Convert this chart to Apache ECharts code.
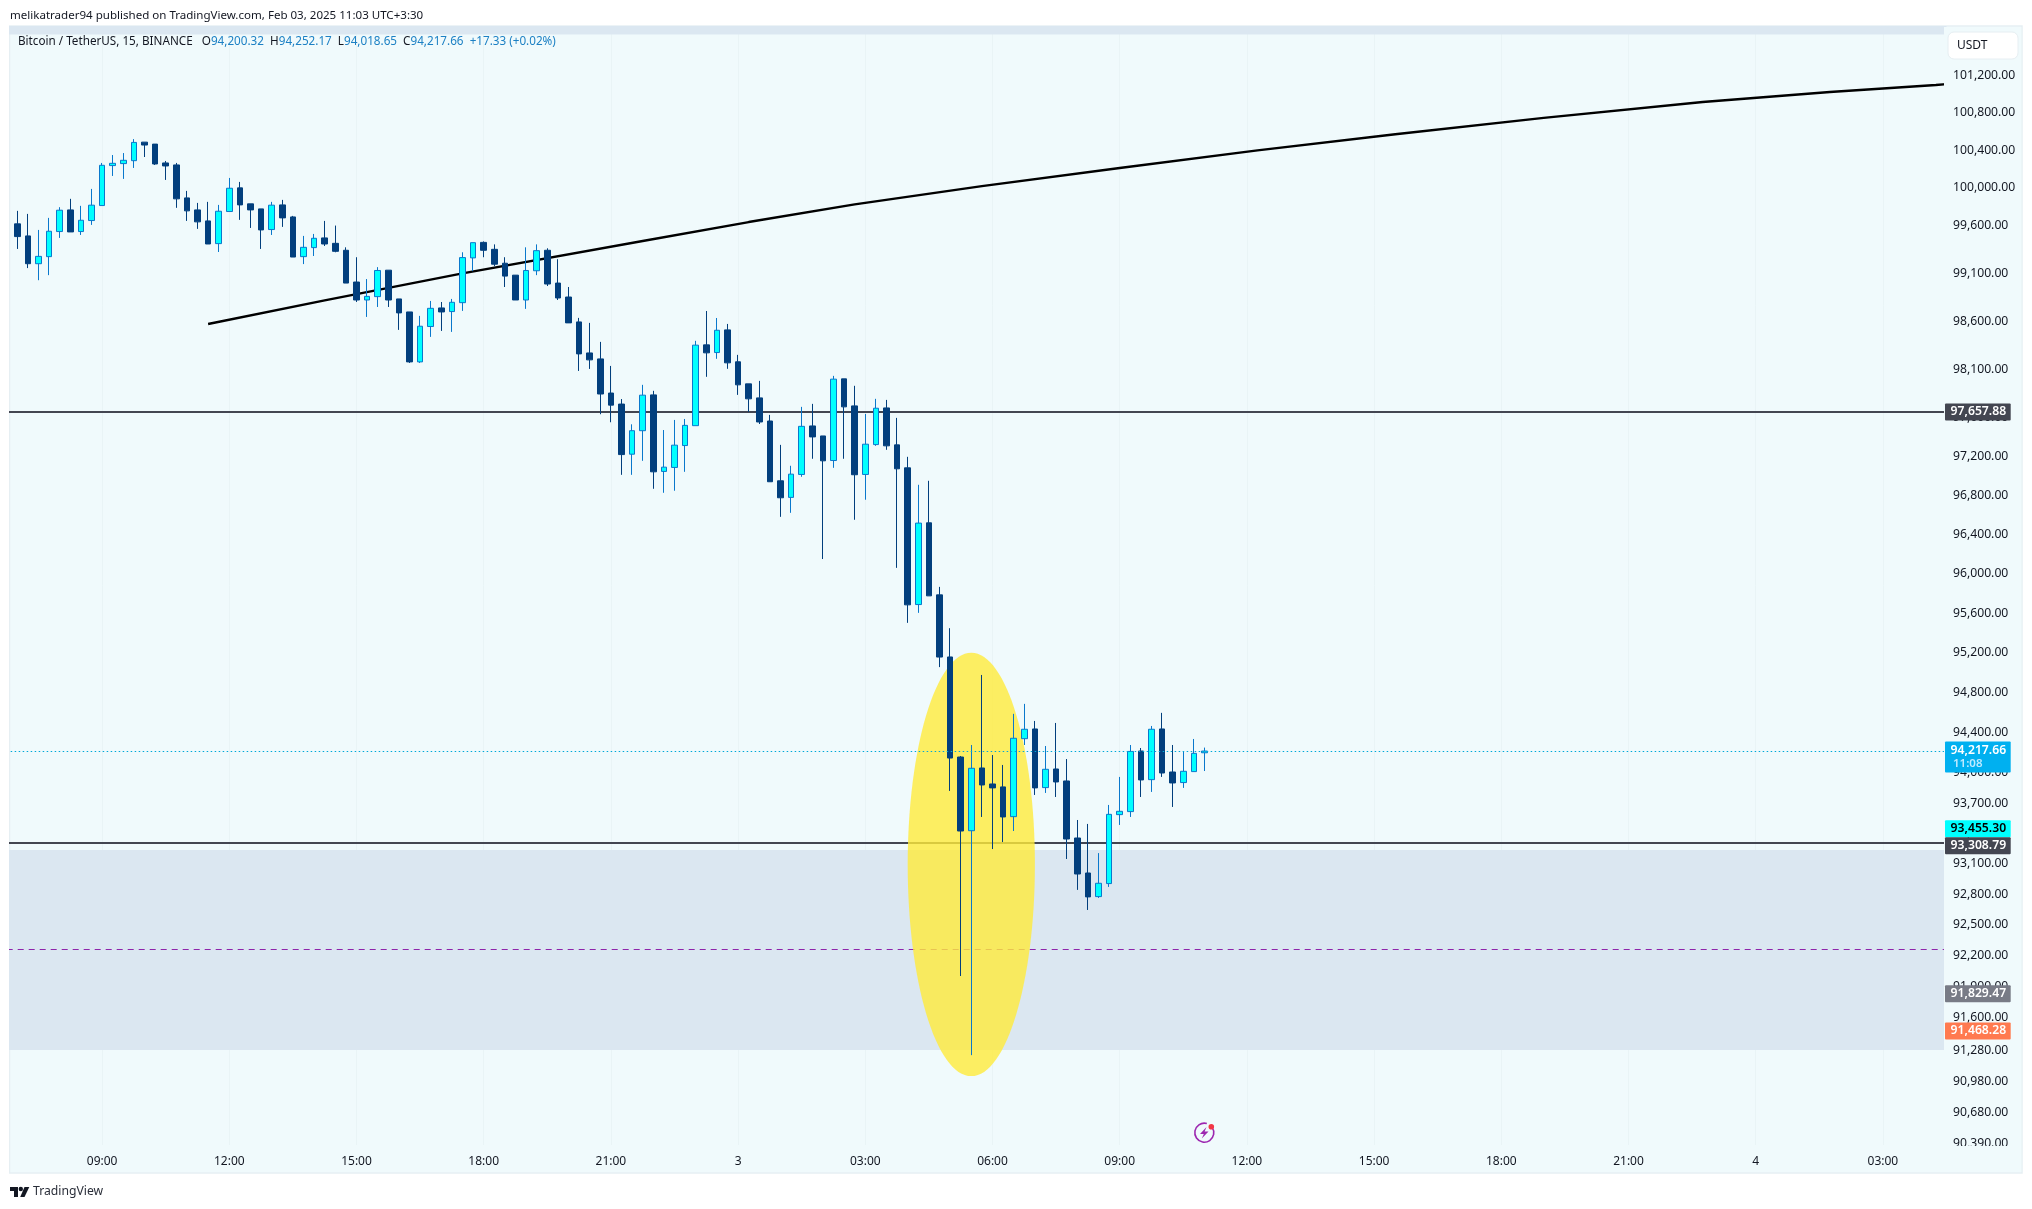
<!DOCTYPE html>
<html><head><meta charset="utf-8"><title>BTC/USDT</title>
<style>html,body{margin:0;padding:0;background:#fff}#c{width:2032px;height:1209px}</style>
<script src="https://cdn.jsdelivr.net/npm/echarts@6/dist/echarts.min.js"></script></head>
<body><div id="c"></div>
<script>
const opens=[99621,99494,99202,99276,99540,99768,99540,99656,99814,100237,100258,100289,100486,100465,100265,100244,99895,99768,99652,99413,99751,100001,99832,99779,99561,99821,99694,99276,99371,99473,
99416,99343,99010,98822,98857,99134,98833,98697,98177,98545,98739,98701,98794,99263,99426,99353,99207,99082,98822,99128,99343,98999,98853,98593,98270,98208,97854,97740,97223,
97465,97835,97046,97087,97312,97517,98354,98274,98510,98178,97949,97804,97565,96950,96780,97015,97514,97411,97158,98001,97721,97015,97322,97700,97319,97083,95689,96520,95787,
95160,94158,93427,94049,93890,93861,93566,94341,94438,93854,94039,93920,93355,93010,92778,92906,93586,93616,94218,93933,94438,94009,93904,94013,94200.32];
const closes=[99487,99202,99279,99543,99765,99536,99659,99818,100240,100261,100293,100483,100455,100254,100233,99885,99758,99642,99409,99754,99997,99821,99768,99557,99818,99684,99272,99374,99469,99409,
99332,98999,98822,98860,99131,98822,98687,98177,98548,98735,98697,98798,99266,99423,99343,99197,99072,98822,99131,99339,98989,98843,98583,98260,98198,97844,97729,97219,97465,
97832,97042,97090,97316,97520,98351,98271,98506,98167,97939,97794,97555,96940,96776,97018,97510,97401,97155,97998,97711,97012,97326,97697,97309,97073,95686,96517,95777,95159,
94148,93424,94046,93880,93851,93563,94345,94435,93851,94036,93910,93345,93000,92775,92909,93589,93619,94214,93930,94435,93999,93900,94016,94195,94217.66];
const lows=[99357,99156,99029,99082,99473,99536,99504,99610,99814,100127,100096,100212,100328,100244,100085,99790,99652,99568,99409,99325,99751,99663,99578,99357,99504,99589,99272,99198,99283,99388,
99322,98999,98801,98645,98749,98749,98510,98166,98166,98437,98499,98489,98708,99124,99270,99176,98958,98822,98729,99082,98968,98822,98583,98083,98104,97635,97552,97011,97011,
97155,96868,96827,96848,97042,97517,98022,98209,98105,97835,97659,97534,96940,96581,96622,96991,97176,96151,97083,97176,96551,96756,97309,97268,96061,95504,95605,95777,95058,
93821,92002,91235,93563,93246,93315,93424,94278,93781,93801,93761,93148,92844,92647,92765,92873,93484,93563,93761,93811,93960,93662,93851,94013,94018.65];
const highs=[99758,99726,99557,99684,99797,99885,99811,99990,100265,100349,100370,100518,100486,100465,100286,100265,99969,99842,99853,99821,100106,100064,99832,99779,99853,99874,99705,99494,99515,99652,
99603,99374,99270,99041,99166,99134,98833,98697,98656,98812,98801,98833,99322,99423,99436,99405,99270,99082,99374,99405,99364,99249,98958,98635,98583,98385,98135,97792,97531,
97939,97877,97472,97576,97586,98396,98707,98634,98572,98250,97949,97980,97628,97319,97104,97711,97742,97411,98032,98001,97929,97638,97794,97783,97597,97196,96909,96950,95868,
95450,94168,94278,94979,94178,94079,94589,94689,94518,94268,94498,94138,93533,93494,93206,93682,93960,94278,94248,94468,94599,94278,94218,94338,94252.17];

const slotCount=184;
const firstTimeTickSlot=9, slotsPerTimeTick=12;
const timeTicks=["09:00","12:00","15:00","18:00","21:00","3","03:00","06:00","09:00","12:00","15:00","18:00","21:00","4","03:00"];
const priceTicks=[101200,100800,100400,100000,99600,99100,98600,98100,97600,97200,96800,96400,96000,95600,95200,94800,94400,94000,93700,93400,93100,92800,92500,92200,91900,91600,91280,90980,90680,90390];
const trendSlots=[19,30,43,60,70,80,92,105,118,131,145,160,172,182,183];
const trendPrices=[98571,98818,99101,99440,99640,99827,100020,100211,100399,100570,100744,100914,101020,101095,101104];
const levelPrices=[97657.88,93308.79];
const lastPrice=94217.66;
const midPrice=92262;
const zoneLow=91285, zoneHigh=93237;
const topZoneLow=101637;
const priceMin=90372, priceMax=101728;
const ellipseSlots=[85,97], ellipsePrices=[95203,91033];
const tagPrices=[97657.88,94217.66,93455.30,93308.79,91829.47,91468.28];
const tagTexts=["97,657.88","94,217.66","93,455.30","93,308.79","91,829.47","91,468.28"];
const countdownText="11:08";
const headerText="melikatrader94 published on TradingView.com, Feb 03, 2025 11:03 UTC+3:30";
const symbolText="Bitcoin / TetherUS, 15, BINANCE";

const FONT='"Noto Sans", sans-serif';
const PANEL='#f0fafc', ZONE='#dbe7f1', DARK='#131722', BLUE='#1c80c4';
const tagFill=['#434651','#00b0f0','#00ffff','#434651','#787b86','#ff7a50'];
const tagInk=['#fff','#fff','#000','#fff','#fff','#fff'];
const tagNudge=[0,-1,1,3,0,0];

const categories=Array.from({length:slotCount},(_,s)=>{
  const k=(s-firstTimeTickSlot)/slotsPerTimeTick;
  return Number.isInteger(k)&&timeTicks[k]?timeTicks[k]:'';
});
const isTickSlot=i=>categories[i]!=='';
const candleData=[['-','-','-','-']].concat(opens.map((o,i)=>[o,closes[i],lows[i],highs[i]]));
const fmt=v=>Math.round(v).toLocaleString('en-US',{minimumFractionDigits:2,maximumFractionDigits:2});

const chart=echarts.init(document.getElementById('c'),null,{renderer:'canvas'});
const lastSlot=slotCount-1;
const hl=(price,color,type,width)=>({yAxis:price,lineStyle:{color,type,width}});

chart.setOption({
  animation:false,
  backgroundColor:'#fff',
  grid:{left:6.7,top:26,width:1939.8,height:1119,containLabel:false},
  title:[
    {text:headerText,left:10,top:9.5,padding:0,textStyle:{fontFamily:FONT,fontSize:11.55,fontWeight:'normal',color:DARK}},
    {text:`{n|${symbolText}}{n|   O}{v|94,200.32}{n|  H}{v|94,252.17}{n|  L}{v|94,018.65}{n|  C}{v|94,217.66}{v|  +17.33 (+0.02%)}`,
     left:18,top:36,padding:0,
     textStyle:{fontWeight:'normal',rich:{n:{fontFamily:FONT,fontSize:11.7,fontWeight:'normal',color:DARK},v:{fontFamily:FONT,fontSize:11.7,fontWeight:'normal',color:BLUE}}}},
    {text:'TradingView',left:33,top:1185.5,padding:0,textStyle:{fontFamily:FONT,fontSize:12.2,fontWeight:'normal',color:'#2a2e39'}}
  ],
  xAxis:{type:'category',data:categories,boundaryGap:false,
    axisLine:{show:false},axisTick:{show:false},
    axisLabel:{interval:(i)=>isTickSlot(i),margin:10.5,fontFamily:FONT,fontSize:12,color:DARK},
    splitLine:{show:true,interval:(i)=>isTickSlot(i),lineStyle:{color:'#e9f4f6',width:1}}},
  yAxis:{type:'log',logBase:10,min:priceMin,max:priceMax,position:'right',z:6,
    axisLine:{show:false},axisTick:{show:false},splitLine:{show:false},
    axisLabel:{customValues:priceTicks,margin:6.5,fontFamily:FONT,fontSize:12.2,color:DARK,formatter:fmt,hideOverlap:false}},
  graphic:{elements:[
    {type:'rect',z:-1,silent:true,shape:{x:9.5,y:26,width:2012.5,height:1147},style:{fill:PANEL,stroke:'#e6eff3',lineWidth:1.5}},
    {type:'rect',z:5,silent:true,shape:{x:1944,y:27,width:77.3,height:1145},style:{fill:PANEL}},
    {type:'rect',z:5,silent:true,shape:{x:0,y:20,width:9,height:1160},style:{fill:'#fff'}},
    {type:'rect',z:7,silent:true,shape:{x:1946,y:1146,width:74,height:12},style:{fill:PANEL}},
    {type:'rect',z:6,silent:true,shape:{x:1948,y:32,width:70,height:27,r:6},style:{fill:'#fff',stroke:'#e6eef2',lineWidth:1}},
    {type:'text',z:7,silent:true,x:1957,y:45.5,style:{text:'USDT',font:'12px '+FONT,fill:DARK,textVerticalAlign:'middle'}},
    {type:'polygon',z:6,silent:true,shape:{points:[[10,1187],[18,1187],[18,1197],[14,1197],[14,1191],[10,1191]]},style:{fill:'#131722'}},
    {type:'polygon',z:6,silent:true,shape:{points:[[24.5,1187],[29.3,1187],[24.5,1197],[20.2,1197]]},style:{fill:'#131722'}},
    {type:'circle',z:6,silent:true,shape:{cx:20.8,cy:1189,r:2.2},style:{fill:'#131722'}},
    {type:'arc',z:6,silent:true,shape:{cx:1204.3,cy:1132.7,r:9.5,startAngle:-0.6,endAngle:-1.3,clockwise:true},style:{stroke:'#9c27b0',lineWidth:1.6,fill:'none'}},
    {type:'polygon',z:6,silent:true,shape:{points:[[1206.5,1127],[1200,1134],[1203.8,1134],[1201.8,1138.5],[1208.5,1131.5],[1204.6,1131.5]]},style:{fill:'#9c27b0'}},
    {type:'circle',z:7,silent:true,shape:{cx:1211.3,cy:1126.7,r:2.8},style:{fill:'#f23645'}}
  ]},
  series:[
    {type:'line',name:'trend',z:2,silent:true,symbol:'none',
     data:trendSlots.map((s,i)=>[s,trendPrices[i]]),
     lineStyle:{color:'#000',width:2.4},
     markArea:{silent:true,z:1,itemStyle:{color:ZONE,opacity:1},label:{show:false},
       data:[[{yAxis:zoneHigh},{yAxis:zoneLow}],[{yAxis:priceMax},{yAxis:topZoneLow}]]},
     markLine:{silent:true,z:1,symbol:['none','none'],label:{show:false},animation:false,
       data:[...levelPrices.map(p=>hl(p,'#434651','solid',2)),hl(midPrice,'#8e24aa',[6,5],1)]}},
    {type:'custom',name:'highlight',z:2,silent:true,clip:false,
     data:[[ellipseSlots[0],ellipsePrices[0],ellipseSlots[1],ellipsePrices[1]]],
     encode:{x:0,y:1},
     renderItem:(p,api)=>{
       const a=api.coord([api.value(0),api.value(1)]), b=api.coord([api.value(2),api.value(3)]);
       return {type:'ellipse',shape:{cx:(a[0]+b[0])/2,cy:(a[1]+b[1])/2,rx:Math.abs(b[0]-a[0])/2,ry:Math.abs(b[1]-a[1])/2},
               style:{fill:'rgba(255,235,59,0.8)'}};
     }},
    {type:'candlestick',name:'BTCUSDT',z:3,silent:true,barWidth:6,
     data:candleData,
     itemStyle:{color:'#00ffff',color0:'#023f7d',borderColor:'#0a78cc',borderColor0:'#023f7d',borderWidth:1},
     markLine:{silent:true,z:4,symbol:['none','none'],label:{show:false},animation:false,
       data:[hl(lastPrice,'#00a8d8',[1.5,2.5],1)]}},
    {type:'custom',name:'tags',z:8,silent:true,clip:false,
     data:tagPrices.map((p,i)=>[lastSlot,p,i]),
     encode:{x:0,y:1},
     renderItem:(p,api)=>{
       const i=api.value(2), c=api.coord([api.value(0),api.value(1)]);
       const x=1945, w=65.7, cy=c[1]+tagNudge[i], two=(i===1);
       const children=[
         {type:'rect',shape:{x,y:cy-8.5,width:w,height:two?31:17,r:1},style:{fill:tagFill[i]}},
         {type:'text',style:{x:x+w/2+0.5,y:cy,text:tagTexts[i],fill:tagInk[i],font:'600 12.2px '+FONT,textAlign:'center',textVerticalAlign:'middle'}}
       ];
       if(two) children.push({type:'text',style:{x:x+8,y:cy+14,text:countdownText,fill:'#bfeaff',font:'600 11.5px '+FONT,textVerticalAlign:'middle'}});
       return {type:'group',children};
     }}
  ]
});
</script></body></html>
